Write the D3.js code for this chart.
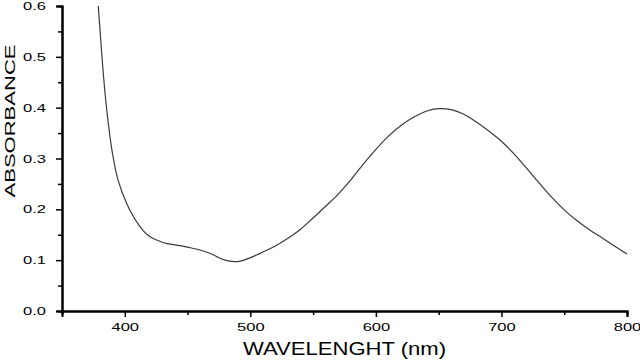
<!DOCTYPE html>
<html>
<head>
<meta charset="utf-8">
<script src="https://cdn.jsdelivr.net/npm/d3@7"></script>
<style>
    body { margin: 0; background: #fff; }
    text { font-family: "Liberation Sans", Arial, sans-serif; fill: #000; }
</style>
</head>
<body>
<div id="graph"></div>
<script>
/*
    Spectrum data
*/
var wavelength = [378.9, 380.8, 382.6, 384.8, 387.2, 390.2, 394.6, 401.4, 408, 411, 415, 419, 423, 428,
                  433, 440, 447, 453, 460, 465, 470, 474, 480, 487, 492, 497, 503, 510, 516, 522,
                  530, 540, 550, 560, 570, 580, 590, 600, 610, 620, 630, 640, 650, 660, 670, 680,
                  690, 700, 710, 720, 730, 740, 750, 760, 770, 780, 790, 800]
var absorbance = [0.600, 0.535, 0.476, 0.415, 0.363, 0.310, 0.258, 0.212, 0.181, 0.170, 0.157, 0.148, 0.142, 0.137,
                  0.133, 0.130, 0.127, 0.124, 0.120, 0.116, 0.111, 0.106, 0.100, 0.097, 0.098, 0.102, 0.108, 0.116, 0.123, 0.131,
                  0.143, 0.161, 0.183, 0.206, 0.230, 0.258, 0.289, 0.318, 0.344, 0.365, 0.381, 0.393, 0.398, 0.396, 0.387, 0.372,
                  0.354, 0.334, 0.309, 0.281, 0.252, 0.224, 0.199, 0.178, 0.160, 0.144, 0.128, 0.112]

var xTicks = [400, 500, 600, 700, 800],
    xMinor = [350, 450, 550, 650, 750],
    yTicks = [0.0, 0.1, 0.2, 0.3, 0.4, 0.5, 0.6],
    yMinor = [0.05, 0.15, 0.25, 0.35, 0.45, 0.55]

/*
    Set the dimensions and margins of the graph
*/
var margin = {top: 6, right: 13, bottom: 49, left: 62},
    width = 640 - margin.left - margin.right,
    height = 360 - margin.top - margin.bottom

var svg = d3.select("#graph").append("svg")
            .attr("width", 640)
            .attr("height", 360)
            .append("g")
            .attr("transform", "translate(" + margin.left + "," + margin.top + ")")

/*
    Set the ranges
*/
var x = d3.scaleLinear().domain([350, 800]).range([0, width]),
    y = d3.scaleLinear().domain([0, 0.6]).range([height, 0])

// the labels in the picture are drawn wide, stretch them
function stretch( sel, k ) {
    sel.each(function () {
        var w = this.getComputedTextLength()
        d3.select(this)
          .attr("textLength", w * k)
          .attr("lengthAdjust", "spacingAndGlyphs")
    })
}

/*
    Axes
*/
var xAxis = svg.append("g")
    .attr("transform", "translate(0," + height + ")")
    .call(d3.axisBottom(x).tickValues(xTicks).tickFormat(d3.format("d"))
            .tickSize(6).tickPadding(6))
xAxis.append("g")
    .call(d3.axisBottom(x).tickValues(xMinor).tickFormat("").tickSize(4))

var yAxis = svg.append("g")
    .call(d3.axisLeft(y).tickValues(yTicks).tickFormat(d3.format(".1f"))
            .tickSize(6).tickPadding(10))
yAxis.append("g")
    .call(d3.axisLeft(y).tickValues(yMinor).tickFormat("").tickSize(4))

svg.selectAll(".domain").attr("stroke", "#000").attr("stroke-width", 2)
svg.selectAll(".tick line").attr("stroke", "#000").attr("stroke-width", 1.5)
svg.selectAll(".tick text")
    .attr("font-size", 11)
    .call(stretch, 1.5)

/*
    The curve
*/
var data = wavelength.map(function ( d, i ) { return {w: d, a: absorbance[i]} })

var line = d3.line()
    .x(function( d ) { return x(d.w) })
    .y(function( d ) { return y(d.a) })
    .curve(d3.curveCatmullRom.alpha(0.5))

svg.append("path")
    .datum(data)
    .attr("fill", "none")
    .attr("stroke", "#3a3a3a")
    .attr("stroke-width", 1.2)
    .attr("d", line)

/*
    Axis titles
*/
svg.append("text")
    .attr("x", width / 2)
    .attr("y", height + 44)
    .attr("text-anchor", "middle")
    .attr("font-size", 18.5)
    .attr("textLength", 203)
    .attr("lengthAdjust", "spacingAndGlyphs")
    .text("WAVELENGHT (nm)")

svg.append("text")
    .attr("transform", "translate(" + (15 - margin.left) + "," + (121 - margin.top) + ") rotate(-90)")
    .attr("text-anchor", "middle")
    .attr("font-size", 15.5)
    .attr("textLength", 153)
    .attr("lengthAdjust", "spacingAndGlyphs")
    .text("ABSORBANCE")
</script>
</body>
</html>
